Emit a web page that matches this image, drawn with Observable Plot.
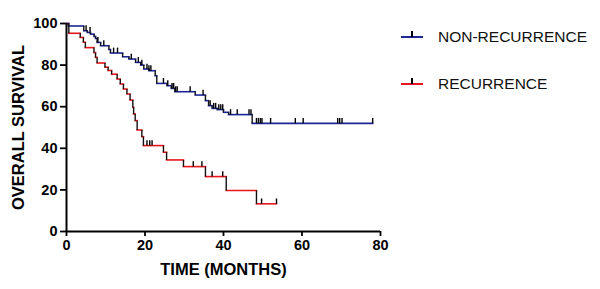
<!DOCTYPE html>
<html>
<head>
<meta charset="utf-8">
<script src="https://cdn.jsdelivr.net/npm/d3@7"></script>
<script src="https://cdn.jsdelivr.net/npm/@observablehq/plot@0.6"></script>
<style>
  html, body { margin: 0; padding: 0; background: #fff; }
  #wrap { position: relative; width: 600px; height: 289px; font-family: "Liberation Sans", Arial, sans-serif; }
  .leg { position: absolute; left: 401px; width: 200px; height: 20px; }
  .leg .ln { position: absolute; left: 0; top: 9px; width: 22px; height: 2px; }
  .leg .tk { position: absolute; left: 10px; top: 4px; width: 1.5px; height: 6px; background: #000; }
  .leg .tx { position: absolute; left: 37px; top: 0; font-size: 15.5px; line-height: 20px; color: #111; }
</style>
</head>
<body>
<div id="wrap"></div>
<script>
// ---- data ----
const seriesNames = ["NON-RECURRENCE", "RECURRENCE"];
const seriesColors = ["#1c2596", "#e8161d"];

// step times (months) and survival (%) after each step
const nonRecTimes = [0, 0.5, 4.4, 5.3, 6.1, 7.0, 7.4, 7.8, 8.7, 10.8, 11.2, 14.3, 15.9, 17.6, 18.9, 19.7, 21.0, 22.6, 23.0, 25.6, 26.7, 27.6, 32.8, 35.4, 36.2, 37.1, 38.4, 40.0, 41.3, 47.3];
const nonRecSurv  = [100, 98.8, 96.5, 95.7, 94.9, 93.8, 92.8, 90.9, 89.3, 87.5, 85.8, 84.0, 82.9, 81.3, 80.0, 78.1, 77.3, 74.9, 71.2, 70.1, 68.8, 67.2, 65.6, 62.9, 60.5, 59.2, 58.6, 57.3, 56.2, 52.0];
const nonRecEnd = 78;
const nonRecCensor = [5.0, 6.0, 8.0, 9.5, 12.0, 13.0, 16.5, 18.3, 19.2, 20.5, 21.0, 21.5, 24.7, 25.8, 26.9, 27.3, 27.8, 28.2, 31.5, 34.8, 36.6, 37.5, 38.0, 38.8, 39.3, 39.8, 41.8, 43.5, 46.5, 47.0, 48.4, 48.9, 49.4, 49.8, 52.0, 58.3, 60.3, 69.1, 69.6, 70.2, 78.0];

const recTimes = [0, 0.6, 3.5, 4.3, 4.8, 7.0, 7.4, 7.8, 9.8, 10.6, 11.5, 12.9, 13.7, 14.5, 15.4, 16.2, 16.9, 17.1, 17.5, 18.0, 19.2, 19.6, 24.7, 25.5, 29.8, 35.4, 40.7, 48.4];
const recSurv  = [100, 95.3, 93.3, 91.0, 88.4, 86.0, 83.7, 81.0, 79.0, 77.4, 75.6, 73.3, 70.9, 68.5, 66.1, 63.2, 59.7, 56.5, 53.3, 48.8, 45.6, 41.3, 38.1, 34.4, 31.2, 26.4, 19.7, 13.3];
const recEnd = 53.5;
const recCensor = [20.5, 21.2, 21.8, 32.3, 34.5, 37.1, 39.8, 49.7, 53.5];

const xTicks = [0, 20, 40, 60, 80];
const yTicks = [0, 20, 40, 60, 80, 100];
const xTitle = "TIME (MONTHS)";
const yTitle = "OVERALL SURVIVAL";

// ---- build tables ----
function build(times, surv, end, censor, name) {
  const horiz = [], vert = [], ticks = [];
  for (let i = 0; i < times.length; i++) {
    const t2 = i + 1 < times.length ? times[i + 1] : end;
    horiz.push({name, x1: times[i], x2: t2, y: surv[i]});
    if (i + 1 < times.length) vert.push({name, x: times[i + 1], y1: surv[i], y2: surv[i + 1]});
  }
  const survAt = t => { let s = surv[0]; for (let i = 0; i < times.length; i++) if (times[i] <= t) s = surv[i]; return s; };
  for (const t of censor) ticks.push({name, x: t, y: survAt(t)});
  return {horiz, vert, ticks};
}
const A = build(nonRecTimes, nonRecSurv, nonRecEnd, nonRecCensor, seriesNames[0]);
const B = build(recTimes, recSurv, recEnd, recCensor, seriesNames[1]);

const font = "'Liberation Sans', Arial, sans-serif";
const chart = Plot.plot({
  width: 600, height: 289,
  marginLeft: 66, marginRight: 220, marginTop: 23, marginBottom: 58,
  style: {fontFamily: font, background: "#fff", color: "#000", overflow: "visible"},
  x: {domain: [0, 80]},
  y: {domain: [0, 100]},
  color: {domain: seriesNames, range: seriesColors},
  marks: [
    Plot.axisX({ticks: xTicks, tickSize: 5, tickPadding: 3, fontSize: 14.5, fontWeight: "bold", label: null, stroke: "#000", strokeWidth: 1.8}),
    Plot.axisY({ticks: yTicks, tickSize: 6, tickPadding: 3, fontSize: 14.5, fontWeight: "bold", label: null, stroke: "#000", strokeWidth: 1.8}),
    // steps
    Plot.link([...B.horiz], {x1: "x1", x2: "x2", y1: "y", y2: "y", stroke: "name", strokeWidth: 1.6, strokeLinecap: "square"}),
    Plot.link([...A.horiz], {x1: "x1", x2: "x2", y1: "y", y2: "y", stroke: "name", strokeWidth: 1.6, strokeLinecap: "square"}),
    Plot.link([...A.vert, ...B.vert], {x1: "x", x2: "x", y1: "y1", y2: "y2", stroke: "#111", strokeWidth: 1.4}),
    // censor ticks
    Plot.link([...A.ticks, ...B.ticks], {x1: "x", x2: "x", y1: "y", y2: d => d.y + 2.6, stroke: "#000", strokeWidth: 1.4}),
    // axis lines
    Plot.ruleY([0], {stroke: "#000", strokeWidth: 2}),
    Plot.ruleX([0], {stroke: "#000", strokeWidth: 2}),
    // titles
    Plot.text([yTitle], {frameAnchor: "left", rotate: -90, dx: -48, textAnchor: "middle", fontSize: 16.5, fontWeight: "bold", fill: "#000", lineAnchor: "middle"}),
    Plot.text([xTitle], {frameAnchor: "bottom", dy: 38, textAnchor: "middle", fontSize: 16.5, fontWeight: "bold", fill: "#000", lineAnchor: "middle"})
  ]
});
const wrap = document.getElementById("wrap");
wrap.appendChild(chart);

// legend
const legendTops = [27, 74];
seriesNames.forEach((n, i) => {
  const d = document.createElement("div");
  d.className = "leg";
  d.style.top = legendTops[i] + "px";
  d.innerHTML = `<div class="ln" style="background:${seriesColors[i]}"></div><div class="tk"></div><div class="tx">${n}</div>`;
  wrap.appendChild(d);
});
chart.style.position = "absolute";
chart.style.left = "0"; chart.style.top = "0";
</script>
</body>
</html>
